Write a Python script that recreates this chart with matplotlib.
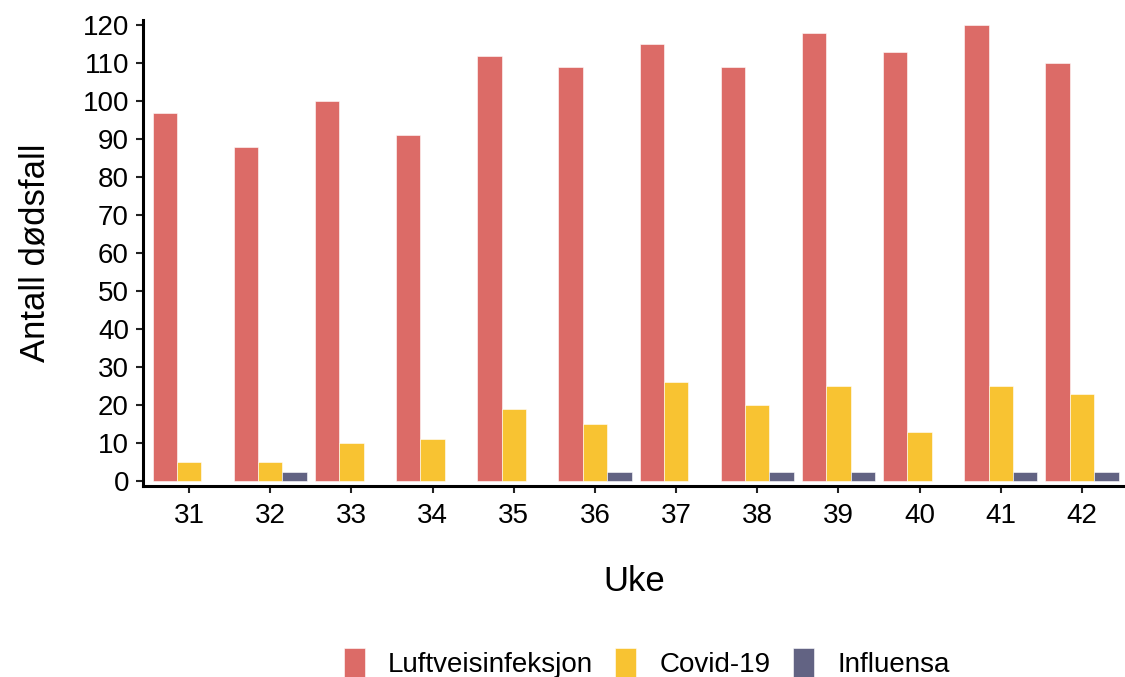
import numpy as np
import matplotlib.pyplot as plt

plt.rcParams['font.family'] = ['Liberation Sans', 'DejaVu Sans']

# Weekly deaths by cause
weeks = [31, 32, 33, 34, 35, 36, 37, 38, 39, 40, 41, 42]
luftvei = [97, 88, 100, 91, 112, 109, 115, 109, 118, 113, 120, 110]
covid = [5, 5, 10, 11, 19, 15, 26, 20, 25, 13, 25, 23]
influensa = [np.nan, 2.5, np.nan, np.nan, np.nan, 2.5, np.nan, 2.5, 2.5, np.nan, 2.5, 2.5]

series = ['Luftveisinfeksjon', 'Covid-19', 'Influensa']
colors = ['#DC6B67', '#F8C332', '#626383']

fig = plt.figure(figsize=(11.25, 6.77), dpi=100)
ax = fig.add_axes([0.127, 0.282, 0.873, 0.688])

x = np.array(weeks)
w = 0.3
handles = []
for i, (vals, col) in enumerate(zip([luftvei, covid, influensa], colors)):
    b = ax.bar(x + (i - 1) * w, vals, width=w, color=col, edgecolor='#ffffff', linewidth=0.4)
    handles.append(b)

ax.set_xlim(30.43, 42.53)
ax.set_ylim(-1.3, 121.3)
ax.set_xticks(weeks)
ax.set_yticks(range(0, 121, 10))
ax.tick_params(axis='both', labelsize=20, length=5, width=1.5, color='#222222')
ax.tick_params(axis='x', pad=7)
ax.tick_params(axis='y', pad=5)

for s in ['top', 'right']:
    ax.spines[s].set_visible(False)
for s in ['left', 'bottom']:
    ax.spines[s].set_linewidth(2.2)

ax.set_ylabel('Antall dødsfall', fontsize=25, labelpad=22)
ax.set_xlabel('Uke', fontsize=25, labelpad=26)

fig.legend(handles, series, loc='center', bbox_to_anchor=(0.575, 0.02), ncol=3,
           frameon=False, fontsize=20, handlelength=0.75, handleheight=1.25,
           handletextpad=0.85, columnspacing=0.8)

fig.savefig('out.png', dpi=100)
